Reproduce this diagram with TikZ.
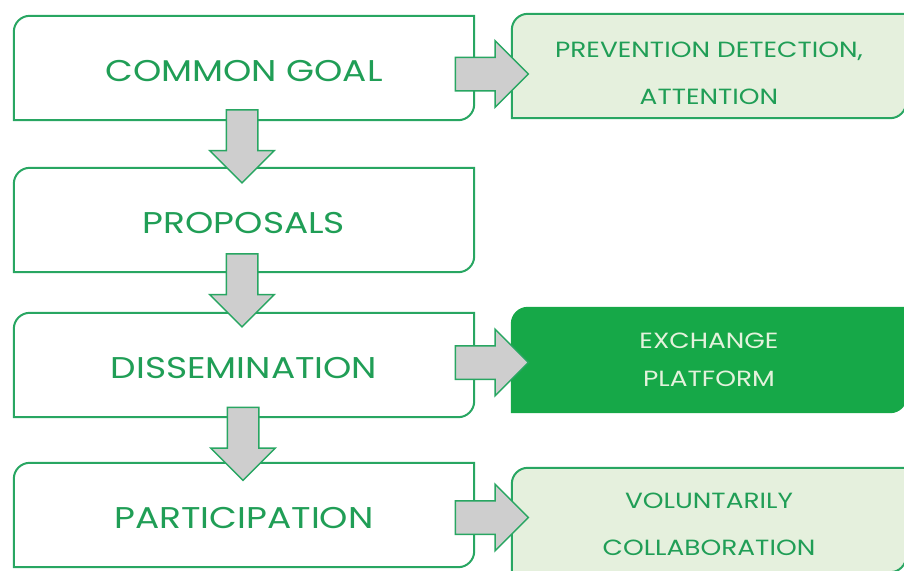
\documentclass[tikz,border=0pt]{standalone}
\usepackage{fontspec}
\setmainfont{Poppins}[FakeStretch=1.2]
\usetikzlibrary{shapes.arrows,calc,backgrounds}

\definecolor{linegreen}{RGB}{40,166,98}
\definecolor{textgreen}{RGB}{32,158,86}
\definecolor{lightfill}{RGB}{229,240,221}
\definecolor{darkfill}{RGB}{22,168,72}
\definecolor{darktext}{RGB}{228,242,220}
\definecolor{arrowgray}{RGB}{206,206,206}

\begin{document}
\begin{tikzpicture}[x=1pt,y=1pt,
  stepbox/.style={minimum width=460pt, minimum height=104pt, inner sep=0pt,
    text=textgreen, font=\fontsize{30}{30}\selectfont, text height=28pt},
  sidebox/.style={minimum width=394pt, minimum height=104pt, inner sep=0pt,
    text=textgreen, align=center, font=\fontsize{22}{47}\selectfont},
  blockarrow/.style={single arrow, draw=linegreen, line width=1.5pt, fill=arrowgray,
    minimum height=73pt, inner xsep=0pt, inner ysep=15pt, single arrow head extend=16.5pt}
]
  \useasboundingbox (0,0) rectangle (904,-570);

  % Left column of steps
  \node[stepbox] (goal) at (244,-68)  {COMMON GOAL};
  \node[stepbox] (prop) at (244,-220) {PROPOSALS};
  \node[stepbox] (diss) at (244,-365) {DISSEMINATION};
  \node[stepbox] (part) at (244,-515) {PARTICIPATION};

  % Right column of outcomes
  \node[sidebox, text height=77pt] (prev) at (709,-66)  {PREVENTION DETECTION,\\ATTENTION};
  \node[sidebox, text=darktext, font=\fontsize{22}{38}\selectfont] (exch) at (709,-360) {EXCHANGE\\PLATFORM};
  \node[sidebox, text height=71pt] (volu) at (709,-520) {VOLUNTARILY\\COLLABORATION};

  % Box outlines: round top-left and bottom-right corners
  \begin{scope}[on background layer]
    \foreach \n/\f/\d in {goal/white/linegreen, prop/white/linegreen, diss/white/linegreen,
        part/white/linegreen, prev/lightfill/linegreen, exch/darkfill/darkfill, volu/lightfill/linegreen}
      \draw[line width=2pt, draw=\d, fill=\f] (\n.south west) -- ([yshift=-16pt]\n.north west)
        arc[start angle=180, end angle=90, radius=16pt] -- (\n.north east)
        -- ([yshift=16pt]\n.south east) arc[start angle=0, end angle=-90, radius=16pt] -- cycle;
  \end{scope}

  % Down arrows between steps
  \node[blockarrow, rotate=-90] (a1) at ($(goal.south)!0.5!(prop.north)+(-2,5.5)$) {};
  \node[blockarrow, rotate=-90] (a2) at ($(prop.south)!0.5!(diss.north)+(-2,10)$) {};
  \node[blockarrow, rotate=-90] (a3) at ($(diss.south)!0.5!(part.north)+(-1,4)$) {};

  % Right arrows to outcomes
  \node[blockarrow, inner ysep=16pt] (b1) at ($(goal.east)!0.5!(prev.west)+(-9.5,-7)$) {};
  \node[blockarrow, inner ysep=16pt] (b2) at ($(diss.east)!0.5!(exch.west)+(-9.5,0)$) {};
  \node[blockarrow, inner ysep=16pt] (b3) at ($(part.east)!0.5!(volu.west)+(-9.5,0)$) {};
\end{tikzpicture}
\end{document}
